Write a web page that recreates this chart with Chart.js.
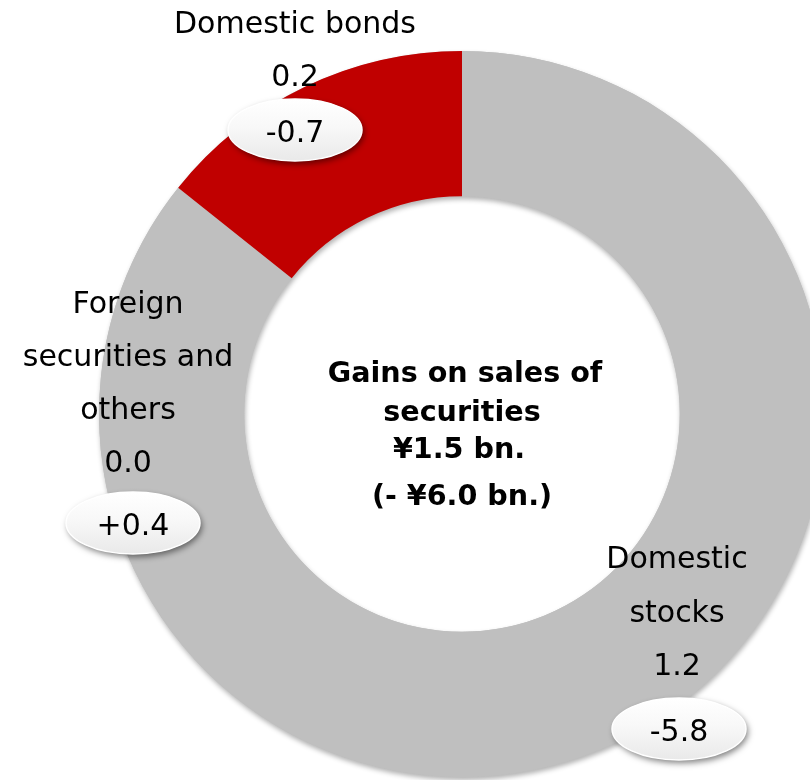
<!DOCTYPE html>
<html>
<head>
<meta charset="utf-8">
<title>Gains on sales of securities</title>
<script src="https://cdn.jsdelivr.net/npm/chart.js@4.4.1/dist/chart.umd.min.js"></script>
<style>
  html, body { margin: 0; padding: 0; background: #fff; overflow: hidden; width: 810px; height: 780px; }
  #wrap { position: absolute; left: 0; top: 0; width: 900px; height: 900px; }
</style>
</head>
<body>
<div id="wrap"><canvas id="gainsChart" width="900" height="900"></canvas></div>
<script>
// Gains on sales of securities (¥ bn.), slices clockwise from 12 o'clock
const categories = ['Domestic stocks', 'Foreign securities and others', 'Domestic bonds'];
const gains = [1.2, 0.0, 0.2];
const yoyChange = [-5.8, 0.4, -0.7];
const totalGain = 1.5;
const totalChange = -6.0;

// how each category name wraps
const labelLines = [['Domestic', 'stocks'], ['Foreign', 'securities and', 'others'], ['Domestic bonds']];

const sliceColors = ['#BFBFBF', '#BFBFBF', '#C00000'];

// label blocks: text centre x, first baseline, line step, bubble centre
const labelPos = [
    { x: 677, y: 568, step: 53.5, bx: 679, by: 729 },
    { x: 128, y: 313, step: 53, bx: 133, by: 523 },
    { x: 295, y: 33, step: 53, bx: 295, by: 130 }
];

const FONT = '"DejaVu Sans", Verdana, sans-serif';

function fmtChange(v) {
    return (v > 0 ? '+' : v < 0 ? '-' : '') + Math.abs(v).toFixed(1);
}

// grey ring with a soft drop shadow underneath the slices
const ringShadow = {
    id: 'ringShadow',
    beforeDatasetsDraw(chart) {
        const arc = chart.getDatasetMeta(0).data[0];
        if (!arc) return;
        const p = arc.getProps(['x', 'y', 'innerRadius', 'outerRadius'], true);
        const ctx = chart.ctx;
        ctx.save();
        ctx.shadowColor = 'rgba(0, 0, 0, 0.3)';
        ctx.shadowBlur = 5;
        ctx.shadowOffsetX = 1;
        ctx.shadowOffsetY = 3;
        ctx.fillStyle = '#BFBFBF';
        ctx.beginPath();
        ctx.arc(p.x, p.y, p.outerRadius, 0, Math.PI * 2);
        ctx.arc(p.x, p.y, p.innerRadius, 0, Math.PI * 2, true);
        ctx.fill();
        ctx.restore();
    }
};

function drawBubble(ctx, cx, cy, text) {
    const rx = 67, ry = 31;
    ctx.save();
    ctx.shadowColor = 'rgba(0, 0, 0, 0.5)';
    ctx.shadowBlur = 6;
    ctx.shadowOffsetX = 2;
    ctx.shadowOffsetY = 3;
    const g = ctx.createLinearGradient(0, cy - ry, 0, cy + ry);
    g.addColorStop(0, '#ffffff');
    g.addColorStop(0.45, '#f8f8f8');
    g.addColorStop(1, '#e9e9e9');
    ctx.fillStyle = g;
    ctx.beginPath();
    ctx.ellipse(cx, cy, rx, ry, 0, 0, Math.PI * 2);
    ctx.fill();
    ctx.restore();

    ctx.save();
    ctx.strokeStyle = '#ffffff';
    ctx.lineWidth = 1.5;
    ctx.beginPath();
    ctx.ellipse(cx, cy, rx, ry, 0, 0, Math.PI * 2);
    ctx.stroke();
    ctx.fillStyle = '#000';
    ctx.font = '30px ' + FONT;
    ctx.textAlign = 'center';
    ctx.textBaseline = 'alphabetic';
    ctx.fillText(text, cx, cy + 12);
    ctx.restore();
}

// category names, values, change bubbles and the centre caption
const sliceLabels = {
    id: 'sliceLabels',
    afterDraw(chart) {
        const ctx = chart.ctx;
        const meta = chart.getDatasetMeta(0);
        ctx.save();
        ctx.fillStyle = '#000';
        ctx.font = '30px ' + FONT;
        ctx.textAlign = 'center';
        ctx.textBaseline = 'alphabetic';
        categories.forEach((name, i) => {
            const pos = labelPos[i];
            const lines = labelLines[i].concat([gains[i].toFixed(1)]);
            lines.forEach((t, k) => ctx.fillText(t, pos.x, pos.y + k * pos.step));
        });
        ctx.restore();

        categories.forEach((name, i) => {
            drawBubble(ctx, labelPos[i].bx, labelPos[i].by, fmtChange(yoyChange[i]));
        });

        const cx = meta.data[0].x;
        ctx.save();
        ctx.fillStyle = '#000';
        ctx.font = 'bold 28.6px ' + FONT;
        ctx.textAlign = 'center';
        ctx.textBaseline = 'alphabetic';
        ctx.fillText('Gains on sales of', cx + 3, 382);
        ctx.fillText('securities', cx, 421);
        ctx.fillText('¥' + totalGain.toFixed(1) + ' bn.', cx - 3, 458);
        ctx.fillText('(- ¥' + Math.abs(totalChange).toFixed(1) + ' bn.)', cx, 505);
        ctx.restore();
    }
};

const ctx = document.getElementById('gainsChart').getContext('2d');
const gainsChart = new Chart(ctx, {
    type: 'doughnut',
    data: {
        labels: categories,
        datasets: [{
            data: gains,
            backgroundColor: sliceColors,
            borderWidth: 0,
            hoverBorderWidth: 0,
            hoverOffset: 0
        }]
    },
    options: {
        responsive: false,
        animation: false,
        cutout: '60%',
        layout: {
            padding: { left: 99, top: 51, right: 75, bottom: 123 }
        },
        plugins: {
            legend: { display: false },
            tooltip: { enabled: false }
        }
    },
    plugins: [ringShadow, sliceLabels]
});
</script>
</body>
</html>
